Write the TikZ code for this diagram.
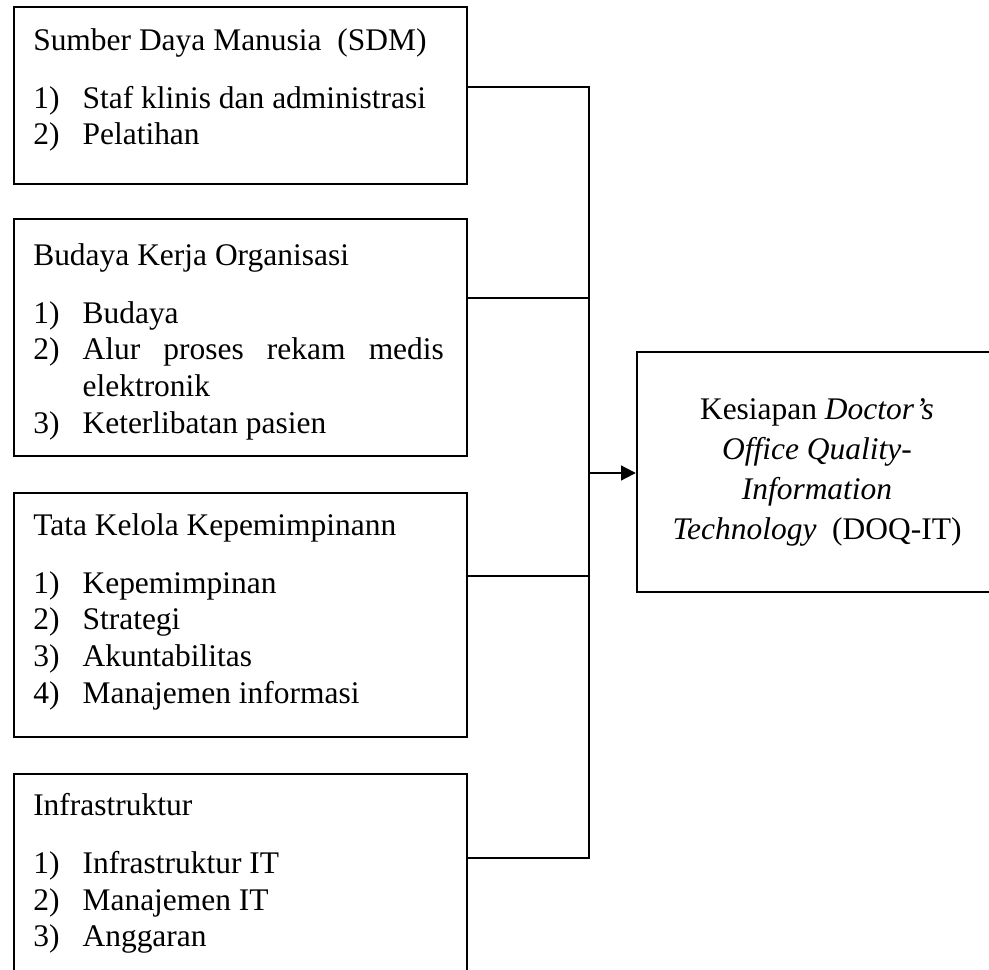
\documentclass[tikz,border=0pt]{standalone}
\usepackage{fontspec}
\setmainfont{Liberation Serif}
\usetikzlibrary{arrows.meta}
\tikzstyle{factorbox}=[draw=black,line width=1.8pt,inner sep=0pt,
                       anchor=north west,minimum width=339.75pt]
\tikzstyle{factortext}=[anchor=north west,inner sep=0pt,align=left,
                        font=\fontsize{23.6}{27.5}\selectfont]
\tikzstyle{goalbox}=[draw=black,line width=1.8pt,inner sep=0pt,align=center,
                     minimum width=270pt,minimum height=180pt,
                     font=\fontsize{23.6}{30}\selectfont]
\tikzstyle{link}=[line width=1.5pt]
\newcommand{\itm}[2]{\makebox[37pt][l]{#1)}#2}

\begin{document}
\begin{tikzpicture}[x=0.75pt,y=-0.75pt]
    \useasboundingbox (0,0) rectangle (989,970);
    \clip (0,0) rectangle (989,970);
    \node (b1) at (13,6)   [factorbox,minimum height=132.75pt]{};
    \node (b2) at (13,218) [factorbox,minimum height=177.75pt]{};
    \node (b3) at (13,492) [factorbox,minimum height=183pt]{};
    \node (b4) at (13,773) [factorbox,minimum height=177.75pt]{};
    \node (t1) at (33,28) [factortext]{Sumber Daya Manusia~ (SDM)\\[16pt]
        \itm{1}{Staf klinis dan administrasi}\\ \itm{2}{Pelatihan}};
    \node (t2) at (33,243) [factortext]{Budaya Kerja Organisasi\\[16pt]
        \itm{1}{Budaya}\\
        \itm{2}{\makebox[271pt][s]{Alur proses rekam medis}}\\
        \makebox[37pt]{}elektronik\\ \itm{3}{Keterlibatan pasien}};
    \node (t3) at (33,513) [factortext]{Tata Kelola Kepemimpinann\\[16pt]
        \itm{1}{Kepemimpinan}\\ \itm{2}{Strategi}\\
        \itm{3}{Akuntabilitas}\\ \itm{4}{Manajemen informasi}};
    \node (t4) at (33,793) [factortext]{Infrastruktur\\[16pt]
        \itm{1}{Infrastruktur IT}\\ \itm{2}{Manajemen IT}\\
        \itm{3}{Anggaran}};
    \node (goal) at (817,472) [goalbox]{Kesiapan \textit{Doctor’s}\\
        \textit{Office Quality-}\\ \textit{Information}\\
        \textit{Technology}~ (DOQ-IT)};
    \coordinate (j1) at (589,87);
    \coordinate (j2) at (589,298);
    \coordinate (j3) at (589,576);
    \coordinate (j4) at (589,858);
    \coordinate (jm) at (589,473);
    \draw[link] (b1.east |- j1) -- (j1) -- (j4) -- (b4.east |- j4);
    \draw[link] (b2.east |- j2) -- (j2);
    \draw[link] (b3.east |- j3) -- (j3);
    \draw[link,-{Triangle[length=11pt,width=11pt]}] (jm) -- (jm -| goal.west);
\end{tikzpicture}
\end{document}
